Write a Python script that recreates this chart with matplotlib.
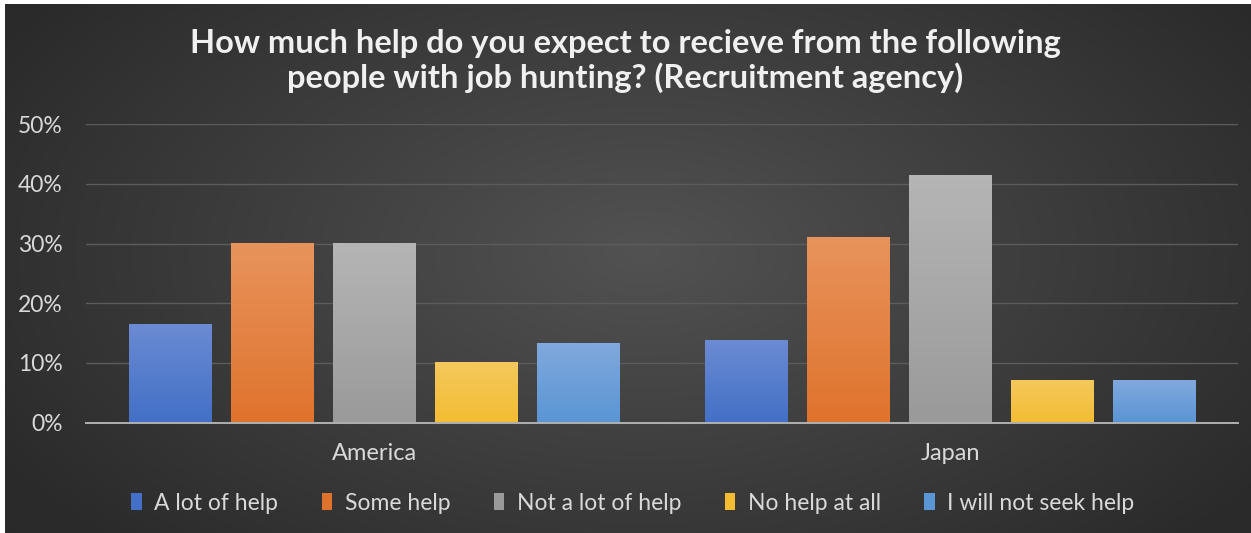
import numpy as np
import matplotlib
matplotlib.use("Agg")
import matplotlib.pyplot as plt
from matplotlib.colors import to_rgb
import matplotlib.ticker as ticker

# ---------- data ----------
countries = ["America", "Japan"]
answers = ["A lot of help", "Some help", "Not a lot of help",
           "No help at all", "I will not seek help"]
america = [0.164, 0.299, 0.299, 0.099, 0.131]
japan = [0.137, 0.309, 0.413, 0.069, 0.069]

# (top, bottom) colours of each series' vertical gradient
bar_colors = [
    ("#6b8bd3", "#4370c6"),
    ("#e8935c", "#df732d"),
    ("#b5b5b5", "#9a9a9a"),
    ("#f4c85c", "#f3bd33"),
    ("#80a9dd", "#5a95d4"),
]

TEXT = "#d9d9d9"
W, H = 1251, 533

plt.rcParams["font.family"] = ["Lato", "DejaVu Sans"]

fig = plt.figure(figsize=(W / 100, H / 100), dpi=100, facecolor="white")

# ---------- background: dark radial gradient ----------
bg = fig.add_axes([5 / W, 0, 1 - 5 / W, 1 - 4 / H])
bg.set_axis_off()
yy, xx = np.mgrid[0:H, 0:W]
r = np.sqrt(((xx - 640) / 760) ** 2 + ((yy - 250) / 420) ** 2)
r = np.clip(r, 0, 1)[..., None]
inner = np.array(to_rgb("#525252"))
outer = np.array(to_rgb("#2a2a2a"))
bg.imshow(inner * (1 - r) + outer * r, aspect="auto", extent=[0, 1, 0, 1])
bg.set_xlim(0, 1)
bg.set_ylim(0, 1)

# ---------- bars ----------
ax = fig.add_axes([86 / W, (H - 422.5) / H, (1238 - 86) / W, (422.5 - 124.3) / H])
ax.set_facecolor("none")

x = np.arange(len(countries))
pitch, width = 0.177, 0.1424
series = np.array([america, japan]).T

grad = np.linspace(0, 1, 64)[:, None]
for i, (label, vals) in enumerate(zip(answers, series)):
    top, bottom = (np.array(to_rgb(c)) for c in bar_colors[i])
    bars = ax.bar(x + (i - 2) * pitch, vals, width, color=bar_colors[i][1],
                  label=label, zorder=2)
    img = top * (1 - grad[..., None]) + bottom * grad[..., None]
    for b in bars:
        ax.imshow(img, aspect="auto", zorder=3,
                  extent=[b.get_x(), b.get_x() + b.get_width(), 0, b.get_height()])

ax.set_xlim(-0.5, 1.5)
ax.set_ylim(0, 0.5)
ax.set_yticks(np.arange(0, 0.51, 0.1))
ax.yaxis.set_major_formatter(ticker.PercentFormatter(1.0, decimals=0))
ax.set_xticks(x)
ax.set_xticklabels(countries)
ax.tick_params(axis="y", length=0, pad=17, labelsize=16.5, labelcolor=TEXT)
ax.tick_params(axis="x", length=0, pad=15, labelsize=17, labelcolor=TEXT)

ax.grid(axis="y", color="#5c5c5c", linewidth=1.0, zorder=0)
for s in ["top", "right", "left"]:
    ax.spines[s].set_visible(False)
ax.spines["bottom"].set_color("#b0b0b0")
ax.spines["bottom"].set_linewidth(1.4)
ax.spines["bottom"].set_zorder(4)

# ---------- title & legend ----------
fig.text(0.5, 1 - 61 / H,
         "How much help do you expect to recieve from the following\n"
         "people with job hunting? (Recruitment agency)",
         ha="center", va="center", fontsize=23.5, fontweight="bold",
         color="#f0f0f0", linespacing=1.2)

leg = fig.legend(loc="center", bbox_to_anchor=(633 / W, 1 - 503 / H), ncol=5,
                 frameon=False, fontsize=16.5, labelcolor=TEXT,
                 handlelength=0.45, handleheight=0.7, handletextpad=0.55,
                 columnspacing=1.9)

fig.savefig("out.png", dpi=100, facecolor=fig.get_facecolor())
